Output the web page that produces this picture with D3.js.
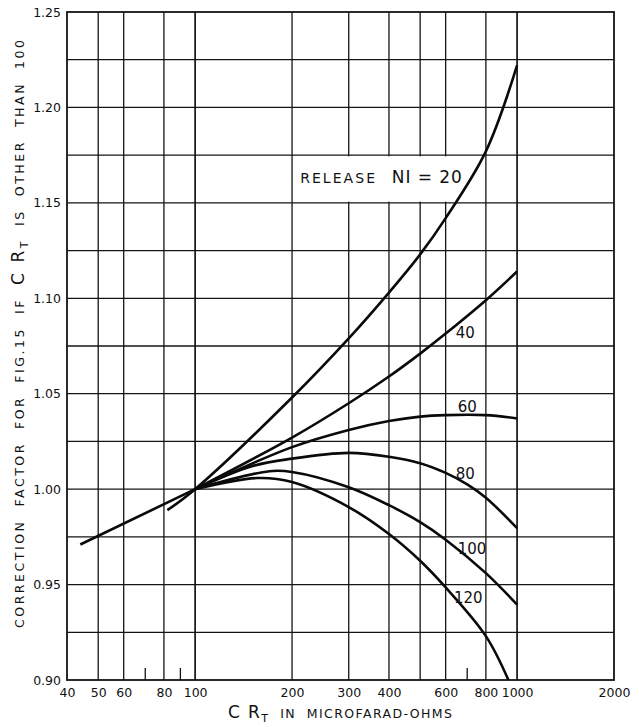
<!DOCTYPE html>
<html><head><meta charset="utf-8">
<script src="https://cdn.jsdelivr.net/npm/d3@7"></script>
<style>body{margin:0;background:#fff} svg{display:block} text{font-family:"DejaVu Sans",sans-serif;fill:#111}</style>
</head><body>
<script>
// ---- data ----
const xTickValues = [40, 50, 60, 80, 100, 200, 300, 400, 600, 800, 1000, 2000];
const xGridValues = [50, 60, 80, 100, 200, 300, 400, 500, 600, 800, 1000];
const xShortTicks = [70, 90, 700];
const yTickValues = [0.90, 0.95, 1.00, 1.05, 1.10, 1.15, 1.20, 1.25];
const yGridValues = [0.925, 0.95, 0.975, 1.0, 1.025, 1.05, 1.075, 1.10, 1.125, 1.15, 1.175, 1.20, 1.225];

const commonX = [44, 100];
const commonY = [0.971, 1.0];

const ni20X = [82, 100, 200, 300, 400, 500, 600, 800, 1000];
const ni20Y = [0.989, 1.0, 1.048, 1.079, 1.103, 1.123, 1.142, 1.177, 1.222];
const ni40X = [100, 200, 300, 400, 500, 600, 800, 1000];
const ni40Y = [1.0, 1.027, 1.045, 1.059, 1.071, 1.0815, 1.099, 1.114];
const ni60X = [100, 200, 300, 400, 500, 600, 800, 1000];
const ni60Y = [1.0, 1.022, 1.031, 1.0357, 1.038, 1.0388, 1.0388, 1.037];
const ni80X = [100, 150, 200, 300, 400, 500, 600, 700, 800, 1000];
const ni80Y = [1.0, 1.012, 1.016, 1.019, 1.017, 1.0136, 1.0085, 1.0025, 0.9955, 0.9796];
const ni100X = [100, 170, 200, 300, 400, 500, 600, 800, 1000];
const ni100Y = [1.0, 1.0094, 1.009, 1.001, 0.9916, 0.9827, 0.9735, 0.956, 0.9395];
const ni120X = [100, 156, 200, 300, 400, 500, 600, 800, 940];
const ni120Y = [1.0, 1.0058, 1.0037, 0.9906, 0.9765, 0.9625, 0.9485, 0.923, 0.90];

const curveLabels = ["40", "60", "80", "100", "120"];
const curveLabelX = [690, 700, 690, 725, 705];
const curveLabelY = [1.082, 1.0435, 1.0084, 0.969, 0.9434];

// ---- layout ----
const W = 639, H = 727;
const m = {left: 67, right: 25, top: 12, bottom: 47};
const svg = d3.select("body").append("svg").attr("width", W).attr("height", H);
svg.append("rect").attr("width", W).attr("height", H).attr("fill", "#fff");

const x = d3.scaleLog().domain([40, 2000]).range([m.left, W - m.right]);
const y = d3.scaleLinear().domain([0.90, 1.25]).range([H - m.bottom, m.top]);

const g = svg.append("g");
const ink = "#141414";

// grid
g.selectAll(".hg").data(yGridValues).enter().append("line")
  .attr("x1", x(40)).attr("x2", x(2000))
  .attr("y1", d => y(d)).attr("y2", d => y(d))
  .attr("stroke", ink).attr("stroke-width", 1.3);
g.selectAll(".vg").data(xGridValues).enter().append("line")
  .attr("x1", d => x(d)).attr("x2", d => x(d))
  .attr("y1", y(0.90)).attr("y2", y(1.25))
  .attr("stroke", ink).attr("stroke-width", d => (d === 100 || d === 1000) ? 1.7 : 1.3);
g.selectAll(".st").data(xShortTicks).enter().append("line")
  .attr("x1", d => x(d)).attr("x2", d => x(d))
  .attr("y1", y(0.90)).attr("y2", y(0.90) - 12)
  .attr("stroke", ink).attr("stroke-width", 1.3);

// white box behind main label
g.append("rect")
  .attr("x", x(204)).attr("width", x(715) - x(204))
  .attr("y", y(1.175) + 1.2).attr("height", y(1.15) - y(1.175) - 2.4)
  .attr("fill", "#fff");

// border
g.append("rect").attr("x", x(40)).attr("y", y(1.25))
  .attr("width", x(2000) - x(40)).attr("height", y(0.90) - y(1.25))
  .attr("fill", "none").attr("stroke", ink).attr("stroke-width", 1.8);

// curves
const series = [
  [commonX, commonY], [ni20X, ni20Y], [ni40X, ni40Y], [ni60X, ni60Y],
  [ni80X, ni80Y], [ni100X, ni100Y], [ni120X, ni120Y]
];
const line = d3.line().x(d => x(d[0])).y(d => y(d[1])).curve(d3.curveCatmullRom.alpha(0.5));
series.forEach(([xs, ys]) => {
  g.append("path").datum(xs.map((v, i) => [v, ys[i]]))
    .attr("d", line).attr("fill", "none").attr("stroke", "#0a0a0a")
    .attr("stroke-width", 2.6).attr("stroke-linecap", "butt").attr("stroke-linejoin", "round");
});

// curve labels
g.selectAll(".cl").data(curveLabels).enter().append("text")
  .attr("x", (d, i) => x(curveLabelX[i])).attr("y", (d, i) => y(curveLabelY[i]))
  .attr("text-anchor", "middle").attr("dy", "0.36em")
  .style("font-size", "15px").text(d => d);

// main label
g.append("text").attr("x", x(212)).attr("y", y(1.1604))
  .attr("textLength", x(362) - x(212)).attr("lengthAdjust", "spacing")
  .style("font-size", "14px").text("RELEASE");
g.append("text").attr("x", x(408)).attr("y", y(1.1604))
  .attr("textLength", x(674) - x(408)).attr("lengthAdjust", "spacing")
  .style("font-size", "17px").style("white-space", "pre").text("NI = 20");

// axes tick labels
const xAxis = d3.axisBottom(x).tickValues(xTickValues).tickFormat(d3.format("d")).tickSize(0).tickPadding(8);
const xa = svg.append("g").attr("transform", `translate(0,${y(0.90)})`).call(xAxis);
xa.select(".domain").remove();
xa.selectAll("text").style("font-size", "12.5px").style("font-family", "DejaVu Sans").attr("fill", ink);

const yAxis = d3.axisLeft(y).tickValues(yTickValues).tickFormat(d3.format(".2f")).tickSize(0).tickPadding(6);
const ya = svg.append("g").attr("transform", `translate(${x(40)},0)`).call(yAxis);
ya.select(".domain").remove();
ya.selectAll("text").style("font-size", "12.5px").style("font-family", "DejaVu Sans").attr("fill", ink);

// x title
const xt = svg.append("text").attr("x", 228).attr("y", 718)
  .attr("textLength", 224).attr("lengthAdjust", "spacing").style("white-space", "pre");
xt.append("tspan").style("font-size", "17px").text("C R");
xt.append("tspan").style("font-size", "11px").attr("dy", 4).text("T");
xt.append("tspan").style("font-size", "12.5px").attr("dy", -4).text("  IN  MICROFARAD-OHMS");

// y title
const yt = svg.append("text").attr("transform", "translate(24,628) rotate(-90)")
  .attr("textLength", 588).attr("lengthAdjust", "spacing").style("white-space", "pre");
yt.append("tspan").style("font-size", "12.5px").text("CORRECTION  FACTOR  FOR  FIG.15  IF  ");
yt.append("tspan").style("font-size", "17px").text("C R");
yt.append("tspan").style("font-size", "11px").attr("dy", 4).text("T");
yt.append("tspan").style("font-size", "12.5px").attr("dy", -4).text("  IS  OTHER  THAN  100");
</script>
</body></html>
